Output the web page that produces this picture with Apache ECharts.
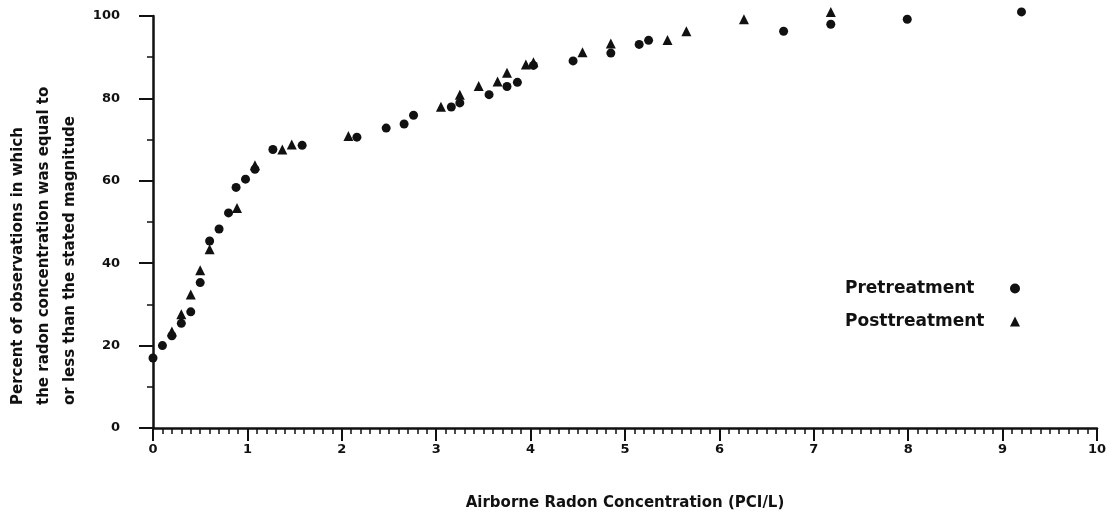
<!DOCTYPE html>
<html>
<head>
<meta charset="utf-8">
<script src="https://cdn.jsdelivr.net/npm/echarts@6/dist/echarts.min.js"></script>
<style>
  html, body { margin: 0; padding: 0; background: #fff; }
  #main { width: 1117px; height: 517px; }
</style>
</head>
<body>
<div id="main"></div>
<script>
// values: [radon pCi/L, cumulative percent]
var preTreatment = [
    [0, 17], [0.1, 20], [0.2, 22.4], [0.3, 25.4], [0.4, 28.2], [0.5, 35.3],
    [0.6, 45.4], [0.7, 48.3], [0.8, 52.2], [0.88, 58.4], [0.98, 60.4], [1.08, 62.8],
    [1.27, 67.6], [1.58, 68.6], [2.16, 70.6], [2.47, 72.8], [2.66, 73.8], [2.76, 75.9],
    [3.16, 77.9], [3.25, 78.9], [3.56, 80.9], [3.75, 82.9], [3.86, 83.9], [4.03, 88.0],
    [4.45, 89.1], [4.85, 91.0], [5.15, 93.1], [5.25, 94.1], [6.68, 96.3], [7.18, 98.0],
    [7.99, 99.2], [9.2, 101]
];
var postTreatment = [
    [0.2, 23.4], [0.3, 27.6], [0.4, 32.4], [0.5, 38.3], [0.6, 43.4], [0.89, 53.4],
    [1.08, 63.8], [1.37, 67.6], [1.47, 68.8], [2.07, 70.9], [3.05, 78.0], [3.25, 80.9],
    [3.45, 83.0], [3.65, 84.1], [3.75, 86.2], [3.95, 88.2], [4.03, 88.8], [4.55, 91.2],
    [4.85, 93.3], [5.45, 94.2], [5.65, 96.3], [6.26, 99.2], [7.18, 101]
];
var seriesNames = ['Pretreatment', 'Posttreatment'];
var xTitle = 'Airborne Radon Concentration (PCI/L)';
var yTitleLines = [
    'Percent of observations in which',
    'the radon concentration was equal to',
    'or less than the stated magnitude'
];

var ink = '#111';
var font = 'DejaVu Sans';

var chart = echarts.init(document.getElementById('main'));

chart.setOption({
    backgroundColor: '#fff',
    animation: false,
    grid: { left: 153, right: 20, top: 16, bottom: 89 },
    legend: {
        data: [
            { name: seriesNames[0], icon: 'circle' },
            { name: seriesNames[1], icon: 'triangle' }
        ],
        orient: 'vertical',
        left: 845,
        top: 280,
        padding: 0,
        align: 'right',
        itemWidth: 10,
        itemHeight: 10,
        itemGap: 16,
        // fixed-width box so names sit flush left and icons line up on the right
        formatter: function (name) { return '{t|' + name + '}'; },
        textStyle: {
            rich: {
                t: {
                    fontFamily: font, fontWeight: 'bold', fontSize: 17,
                    color: ink, width: 160, align: 'left', lineHeight: 20
                }
            }
        }
    },
    xAxis: {
        type: 'value',
        min: 0,
        max: 10,
        interval: 1,
        name: xTitle,
        nameLocation: 'middle',
        nameGap: 68,
        nameTextStyle: { fontFamily: font, fontWeight: 'bold', fontSize: 15, color: ink },
        axisLine: { lineStyle: { color: ink, width: 2.5 } },
        axisTick: { length: 13, lineStyle: { color: ink, width: 2 } },
        minorTick: { show: true, splitNumber: 10, length: 6, lineStyle: { color: ink, width: 1.5 } },
        axisLabel: { margin: 15, fontFamily: font, fontWeight: 'bold', fontSize: 13, color: ink },
        splitLine: { show: false }
    },
    yAxis: {
        type: 'value',
        min: 0,
        max: 100,
        interval: 20,
        name: yTitleLines.map(function (s) { return '{a|' + s + '}'; }).join('\n'),
        nameLocation: 'middle',
        nameGap: 70,
        nameTextStyle: {
            rich: {
                a: {
                    fontFamily: font, fontWeight: 'bold', fontSize: 15, color: ink,
                    width: 366, align: 'left', lineHeight: 26
                }
            }
        },
        axisLine: { show: true, lineStyle: { color: ink, width: 2.5 } },
        axisTick: { show: true, length: 14, lineStyle: { color: ink, width: 2 } },
        minorTick: { show: true, splitNumber: 2, length: 6, lineStyle: { color: ink, width: 1.5 } },
        axisLabel: { margin: 33, fontFamily: font, fontWeight: 'bold', fontSize: 13, color: ink },
        splitLine: { show: false }
    },
    series: [
        {
            name: seriesNames[0],
            type: 'scatter',
            symbol: 'circle',
            symbolSize: 9,
            clip: false,
            itemStyle: { color: ink, opacity: 1 },
            data: preTreatment
        },
        {
            name: seriesNames[1],
            type: 'scatter',
            symbol: 'triangle',
            symbolSize: 10,
            clip: false,
            itemStyle: { color: ink, opacity: 1 },
            data: postTreatment
        }
    ]
});
</script>
</body>
</html>
